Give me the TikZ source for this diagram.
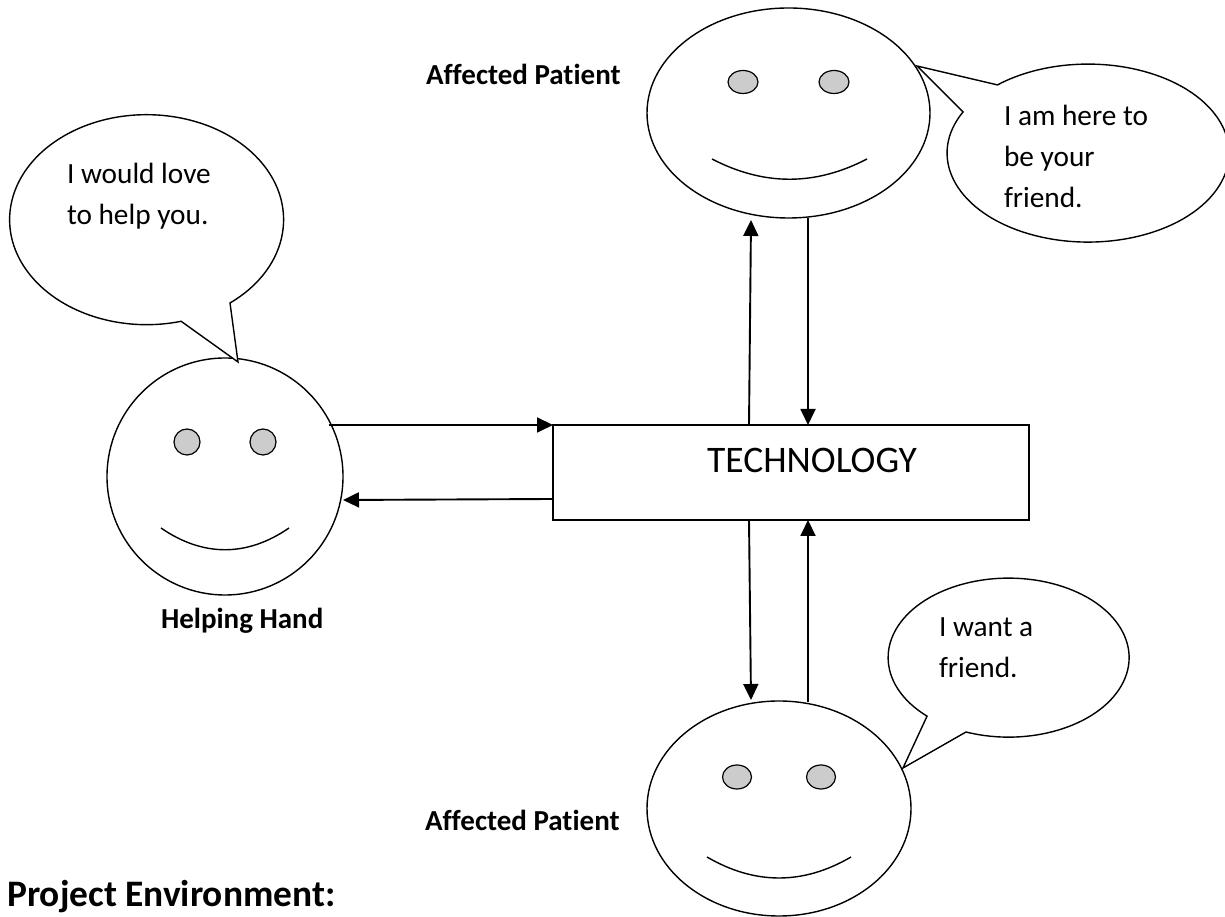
\documentclass[tikz,border=0pt]{standalone}
\usepackage{fontspec}
\setmainfont{Carlito}[Ligatures=CommonOff]
\usetikzlibrary{arrows.meta,shapes.geometric}
\tikzset{
  x=1pt,y=1pt,
  ln/.style={line width=1.4pt,black},
  facebox/.style={ellipse,draw,ln,inner sep=0,fill=white},
  eyeball/.style={ellipse,draw,line width=1.2pt,fill=black!20,inner sep=0,minimum width=#1},
  bubble/.style={ln,fill=white,line join=miter},
  smile/.style={ln},
  conn/.style={line width=1.9pt,-{Triangle[length=16pt,width=15pt]}},
  say/.style={inner sep=0,outer sep=0,align=left,anchor=base west,font=\fontsize{29.3}{41}\selectfont},
  tag/.style={inner sep=0,outer sep=0,anchor=base west,font=\fontsize{29}{34}\selectfont\bfseries},
}
\begin{document}
\begin{tikzpicture}
\useasboundingbox (0,0) rectangle (1225,917);
\begin{scope}
\clip (0,0) rectangle (1225,917);
% faces
\node[facebox,minimum width=236pt,minimum height=237pt] (left) at (225,440.5) {};
\node[facebox,minimum width=283pt,minimum height=210pt] (top) at (788.5,804) {};
\node[facebox,minimum width=264pt,minimum height=215pt] (bot) at (779,108.5) {};
% eyes
\node[eyeball=26pt,minimum height=26pt] (l1) at (187,475) {};
\node[eyeball=26pt,minimum height=26pt] (l2) at (263,475) {};
\node[eyeball=30pt,minimum height=23pt] (t1) at (743,835) {};
\node[eyeball=30pt,minimum height=23pt] (t2) at (834,835) {};
\node[eyeball=29pt,minimum height=24pt] (b1) at (737,140) {};
\node[eyeball=29pt,minimum height=24pt] (b2) at (821,140) {};
% smiles
\draw[smile] (161,389) .. controls (203,360) and (247,360) .. (289,389);
\draw[smile] (712,758) .. controls (764,731) and (815,731) .. (867,758);
\draw[smile] (707,60) .. controls (755,32) and (803,32) .. (851,60);
% bubbles
\coordinate (tipA) at (238,555);
\draw[bubble] (tipA) -- (230,614) arc[start angle=-52.5,end angle=284.6,x radius=137,y radius=105] -- cycle;
\coordinate (tipB) at (917,851);
\draw[bubble] (tipB) -- (963,805) arc[start angle=152.5,end angle=490,x radius=141,y radius=89] -- cycle;
\coordinate (tipC) at (903,149);
\draw[bubble] (tipC) -- (966,185) arc[start angle=249.3,end angle=587.4,x radius=120.5,y radius=79.5] -- cycle;
\end{scope}
% technology
\node[draw,ln,minimum width=476pt,minimum height=95pt,inner sep=0] (tech) at (791,444.5) {};
\node[inner sep=0,anchor=base west,font=\fontsize{37.5}{42}\selectfont] (techlabel) at (707,444) {TECHNOLOGY};
% connectors
\coordinate (a1) at (329,492); \coordinate (a2) at (553,492);
\coordinate (b1s) at (553,418); \coordinate (b1e) at (343,417);
\coordinate (c1) at (749,492); \coordinate (c2) at (751,697);
\coordinate (d1) at (808,699); \coordinate (d2) at (808,492);
\coordinate (e1) at (749,397); \coordinate (e2) at (751,217);
\coordinate (f1) at (808,215); \coordinate (f2) at (808,397);
\draw[conn] (a1) -- (a2);
\draw[conn] (b1s) -- (b1e);
\draw[conn] (c1) -- (c2);
\draw[conn] (d1) -- (d2);
\draw[conn] (e1) -- (e2);
\draw[conn] (f1) -- (f2);
% texts
\node[say] (s1) at (67,692) {I would love\\to help you.};
\node[say] (s2) at (1004,709) {I am here to\\be your\\friend.};
\node[say] (s3) at (939,239) {I want a\\friend.};
\node[tag] (n1) at (426,832) {Affected Patient};
\node[tag] (n2) at (161,288) {Helping Hand};
\node[tag] (n3) at (425,86) {Affected Patient};
\node[inner sep=0,anchor=base west,font=\fontsize{37.4}{44}\selectfont\bfseries] (title) at (7,10) {Project Environment:};
\end{tikzpicture}
\end{document}
